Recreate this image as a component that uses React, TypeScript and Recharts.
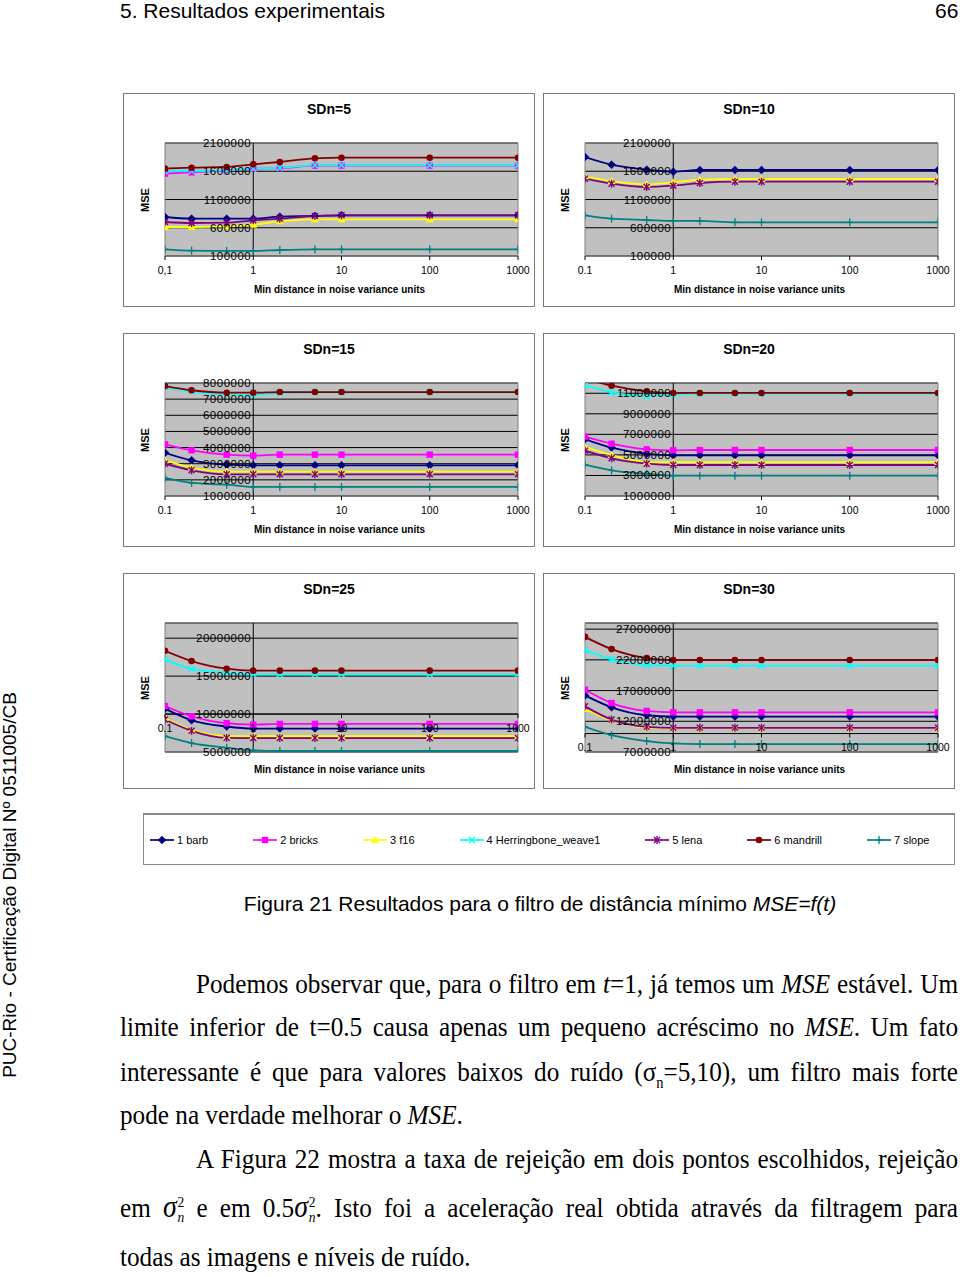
import React from 'react';
import { LineChart, Line, XAxis, YAxis, CartesianGrid, ReferenceLine, ReferenceArea } from 'recharts';

// x values (min distance in noise variance units)
const T = [0.1, 0.2, 0.5, 1, 2, 5, 10, 100, 1000];
const X_TICKS = [0.1, 1, 10, 100, 1000];

const SERIES_NAMES = ['1 barb', '2 bricks', '3 f16', '4 Herringbone_weave1', '5 lena', '6 mandrill', '7 slope'];
const SERIES_COLORS = ['#000080', '#FF00FF', '#FFFF00', '#00FFFF', '#800080', '#800000', '#008080'];
const SERIES_MARKERS = ['diamond', 'square', 'triangle', 'x', 'star', 'circle', 'plus'];

const N = null;
const HIDDEN = [N, N, N, N, N, N, N, N, N];

// Each panel: rows = barb, bricks, f16, Herringbone_weave1, lena, mandrill, slope
const sd5 = [
  [790000, 761000, 761000, 761000, 796000, 808000, 820000, 820000, 820000],
  [1557000, 1580000, 1616000, 1645000, 1655000, 1698000, 1700000, 1700000, 1700000],
  [613000, 613000, 625000, 655000, 713000, 749000, 749000, 749000, 749000],
  [1604000, 1604000, 1616000, 1650000, 1660000, 1705000, 1705000, 1705000, 1705000],
  [702000, 684000, 690000, 731000, 761000, 808000, 820000, 820000, 820000],
  [1646000, 1663000, 1675000, 1722000, 1764000, 1829000, 1840000, 1840000, 1840000],
  [218000, 195000, 189000, 189000, 206000, 218000, 218000, 218000, 218000],
];
const sd10 = [
  [1852000, 1717000, 1628000, 1593000, 1622000, 1622000, 1622000, 1622000, 1622000],
  HIDDEN,
  [1510000, 1427000, 1368000, 1404000, 1451000, 1463000, 1463000, 1463000, 1463000],
  HIDDEN,
  [1469000, 1380000, 1321000, 1345000, 1392000, 1416000, 1416000, 1416000, 1416000],
  HIDDEN,
  [820000, 761000, 737000, 720000, 720000, 696000, 696000, 696000, 696000],
];
const sd15 = [
  [3680000, 3210000, 2940000, 2900000, 2900000, 2900000, 2900000, 2900000, 2900000],
  [4200000, 3830000, 3560000, 3500000, 3560000, 3560000, 3560000, 3560000, 3560000],
  [3210000, 2760000, 2510000, 2510000, 2510000, 2510000, 2510000, 2510000, 2510000],
  [7750000, 7480000, 7300000, 7280000, 7380000, 7420000, 7420000, 7420000, 7420000],
  [3000000, 2590000, 2340000, 2340000, 2340000, 2340000, 2340000, 2340000, 2340000],
  [7810000, 7550000, 7400000, 7400000, 7440000, 7440000, 7440000, 7440000, 7440000],
  [2120000, 1810000, 1700000, 1560000, 1560000, 1560000, 1560000, 1560000, 1560000],
];
const sd20 = [
  [6520000, 5710000, 5120000, 4960000, 4960000, 4960000, 4960000, 4960000, 4960000],
  [6780000, 6090000, 5540000, 5450000, 5480000, 5480000, 5480000, 5480000, 5480000],
  [5770000, 4990000, 4300000, 4300000, 4300000, 4300000, 4300000, 4300000, 4300000],
  [11770000, 11090000, 10730000, 10860000, 10960000, 10980000, 10980000, 10980000, 10980000],
  [5410000, 4670000, 4150000, 4020000, 4020000, 4020000, 4020000, 4020000, 4020000],
  [12400000, 11740000, 11190000, 11030000, 11030000, 11030000, 11030000, 11030000, 11030000],
  [4050000, 3500000, 3170000, 2980000, 2980000, 2980000, 2980000, 2980000, 2980000],
];
const sd25 = [
  [10710000, 9180000, 8360000, 8090000, 8090000, 8090000, 8090000, 8090000, 8090000],
  [11060000, 9710000, 8790000, 8620000, 8700000, 8700000, 8700000, 8700000, 8700000],
  [9490000, 7920000, 7090000, 7090000, 7090000, 7090000, 7090000, 7090000, 7090000],
  [17200000, 15940000, 15460000, 15240000, 15240000, 15240000, 15240000, 15240000, 15240000],
  [9270000, 7790000, 6870000, 6830000, 6830000, 6830000, 6830000, 6830000, 6830000],
  [18340000, 16990000, 15980000, 15720000, 15720000, 15720000, 15720000, 15720000, 15720000],
  [7090000, 6180000, 5570000, 5220000, 5130000, 5130000, 5130000, 5130000, 5130000],
];
const sd30 = [
  [16210000, 14270000, 12980000, 12760000, 12760000, 12760000, 12760000, 12760000, 12760000],
  [17120000, 14970000, 13680000, 13460000, 13460000, 13460000, 13460000, 13460000, 13460000],
  [14000000, 12170000, 10980000, 10880000, 10880000, 10880000, 10880000, 10880000, 10880000],
  [23580000, 22080000, 21160000, 21050000, 21050000, 21050000, 21050000, 21050000, 21050000],
  [14430000, 12280000, 11090000, 10930000, 10930000, 10930000, 10930000, 10930000, 10930000],
  [25740000, 23750000, 22290000, 21970000, 21970000, 21970000, 21970000, 21970000, 21970000],
  [11090000, 9740000, 8780000, 8400000, 8290000, 8290000, 8290000, 8290000, 8290000],
];

const PANEL_TITLES = ['SDn=5', 'SDn=10', 'SDn=15', 'SDn=20', 'SDn=25', 'SDn=30'];
const PANEL_DATA = [sd5, sd10, sd15, sd20, sd25, sd30];
const Y_DOMAINS = [[100000, 2100000], [100000, 2100000], [1000000, 8000000], [1000000, 12000000], [5000000, 22000000], [7000000, 28000000]];
const Y_TICKS = [
  [100000, 600000, 1100000, 1600000, 2100000],
  [100000, 600000, 1100000, 1600000, 2100000],
  [1000000, 2000000, 3000000, 4000000, 5000000, 6000000, 7000000, 8000000],
  [1000000, 3000000, 5000000, 7000000, 9000000, 11000000],
  [5000000, 10000000, 15000000, 20000000],
  [7000000, 12000000, 17000000, 22000000, 27000000],
];
const X_CROSS = [100000, 100000, 1000000, 1000000, 10000000, 10000000];
const DECIMAL_SEP = [',', '.', '.', '.', '.', '.'];

const SANS = '"Liberation Sans", Arial, sans-serif';
const SERIF = '"Liberation Serif", "Times New Roman", serif';

function marker(kind: string, color: string, cx: number, cy: number, key?: any) {
  switch (kind) {
    case 'diamond':
      return <polygon key={key} points={`${cx},${cy - 4} ${cx + 4},${cy} ${cx},${cy + 4} ${cx - 4},${cy}`} fill={color} stroke={color} strokeWidth={0.5} />;
    case 'square':
      return <rect key={key} x={cx - 3.2} y={cy - 3.2} width={6.4} height={6.4} fill={color} />;
    case 'triangle':
      return <polygon key={key} points={`${cx},${cy - 4} ${cx + 4},${cy + 3} ${cx - 4},${cy + 3}`} fill={color} />;
    case 'x':
      return (
        <g key={key} stroke={color} strokeWidth={1.5}>
          <line x1={cx - 3} y1={cy - 3} x2={cx + 3} y2={cy + 3} />
          <line x1={cx - 3} y1={cy + 3} x2={cx + 3} y2={cy - 3} />
        </g>
      );
    case 'star':
      return (
        <g key={key} stroke={color} strokeWidth={1.4}>
          <line x1={cx - 3} y1={cy - 3} x2={cx + 3} y2={cy + 3} />
          <line x1={cx - 3} y1={cy + 3} x2={cx + 3} y2={cy - 3} />
          <line x1={cx} y1={cy - 4} x2={cx} y2={cy + 4} />
        </g>
      );
    case 'circle':
      return <circle key={key} cx={cx} cy={cy} r={3.3} fill={color} />;
    case 'plus':
    default:
      return (
        <g key={key} stroke={color} strokeWidth={1.3}>
          <line x1={cx} y1={cy - 4} x2={cx} y2={cy + 4} />
          <line x1={cx - 3} y1={cy} x2={cx + 3} y2={cy} />
        </g>
      );
  }
}

function makeDot(kind: string, color: string) {
  return (p: any) => {
    const key = `dot-${p.index}`;
    if (p.value == null || !Number.isFinite(p.cx) || !Number.isFinite(p.cy)) return <g key={key} />;
    return marker(kind, color, p.cx, p.cy, key);
  };
}

const PANEL_W = 412;
const PL = 42;
const PT = 50;
const PW = 353;

function Panel({ idx, left, top, height, plotH }: { idx: number; left: number; top: number; height: number; plotH: number }) {
  const series = PANEL_DATA[idx];
  const rows = T.map((t, i) => {
    const r: any = { t };
    series.forEach((s, k) => {
      r['s' + k] = s[i];
    });
    return r;
  });
  const [ymin, ymax] = Y_DOMAINS[idx];
  const cross = X_CROSS[idx];
  const crossOffset = (plotH * (cross - ymin)) / (ymax - ymin);
  const lx = Math.log10(0.1);
  const yLabelX = PL + (PW * (Math.log10(1) - lx)) / (Math.log10(1000) - lx) - 2;
  const sep = DECIMAL_SEP[idx];
  const fmtX = (v: number) => (v < 1 ? String(v).replace('.', sep) : String(v));

  const XTick = (p: any) => {
    const yy = p.y - crossOffset;
    return (
      <g>
        <line x1={p.x} x2={p.x} y1={yy} y2={yy + 4} stroke="#000" strokeWidth={1} />
        <text x={p.x} y={yy + 17.5} textAnchor="middle" fontSize={10.5} fontFamily={SANS} fill="#000">
          {fmtX(p.payload.value)}
        </text>
      </g>
    );
  };
  const YTick = (p: any) => (
    <text x={yLabelX} y={p.y + 4} textAnchor="end" fontSize={11.5} letterSpacing={0.5} fontFamily={SANS} fill="#000">
      {p.payload.value}
    </text>
  );

  const xAxisH = height - PT - plotH;

  return (
    <div
      style={{
        position: 'absolute',
        left,
        top,
        width: PANEL_W,
        height,
        boxSizing: 'border-box',
        border: '1px solid #7a7a7a',
        background: '#fff',
      }}
    >
      <div style={{ position: 'absolute', left: -1, top: -1 }}>
        <LineChart width={PANEL_W} height={height} data={rows} margin={{ top: PT, right: PANEL_W - PL - PW, left: 0, bottom: 0 }}>
          <CartesianGrid vertical={false} stroke="#000" strokeWidth={1} fill="#c0c0c0" fillOpacity={1} />
          <ReferenceArea x1={0.1} x2={1000} y1={ymin} y2={ymax} fill="none" stroke="#808080" strokeWidth={1} ifOverflow="visible" />
          <ReferenceLine x={1} stroke="#000" strokeWidth={1} />
          {cross > ymin ? <ReferenceLine y={cross} stroke="#000" strokeWidth={1} /> : null}
          <XAxis
            dataKey="t"
            type="number"
            scale="log"
            domain={[0.1, 1000]}
            ticks={X_TICKS}
            allowDataOverflow
            interval={0}
            axisLine={false}
            tickLine={false}
            tickSize={0}
            tickMargin={0}
            height={xAxisH}
            tick={XTick}
          />
          <YAxis
            type="number"
            domain={[ymin, ymax]}
            ticks={Y_TICKS[idx]}
            allowDataOverflow
            interval={0}
            axisLine={false}
            tickLine={false}
            width={PL}
            tick={YTick}
          />
          {SERIES_NAMES.map((name, k) => (
            <Line
              key={name}
              dataKey={'s' + k}
              name={name}
              type="monotone"
              stroke={SERIES_COLORS[k]}
              strokeWidth={1.8}
              dot={makeDot(SERIES_MARKERS[k], SERIES_COLORS[k])}
              activeDot={false}
              isAnimationActive={false}
              connectNulls={false}
            />
          ))}
        </LineChart>
      </div>
      <div
        style={{
          position: 'absolute',
          left: 0,
          width: PANEL_W - 2,
          top: 7,
          textAlign: 'center',
          fontFamily: SANS,
          fontWeight: 'bold',
          fontSize: 14,
          lineHeight: '16px',
        }}
      >
        {PANEL_TITLES[idx]}
      </div>
      <div
        style={{
          position: 'absolute',
          left: 21,
          top: PT + plotH / 2 - 1,
          transform: 'translate(-50%,-50%) rotate(-90deg)',
          fontFamily: SANS,
          fontWeight: 'bold',
          fontSize: 11,
          lineHeight: '12px',
          whiteSpace: 'nowrap',
        }}
      >
        MSE
      </div>
      <div
        style={{
          position: 'absolute',
          left: PL + PW / 2 - 3,
          top: 196,
          transform: 'translate(-50%,-50%)',
          fontFamily: SANS,
          fontWeight: 'bold',
          fontSize: 10,
          lineHeight: '12px',
          whiteSpace: 'nowrap',
        }}
      >
        Min distance in noise variance units
      </div>
    </div>
  );
}

function LegendBox() {
  return (
    <div
      style={{
        position: 'absolute',
        left: 143,
        top: 813,
        width: 812,
        height: 52,
        boxSizing: 'border-box',
        border: '1px solid #8a8a8a',
        borderTop: '2px solid #8a8a8a',
        display: 'flex',
        alignItems: 'center',
        paddingLeft: 6,
        gap: 45,
        fontFamily: SANS,
        fontSize: 11,
      }}
    >
      {SERIES_NAMES.map((name, k) => (
        <div key={name} style={{ display: 'flex', alignItems: 'center', whiteSpace: 'nowrap' }}>
          <svg width={24} height={10} style={{ marginRight: 3 }}>
            <line x1={0} y1={5} x2={24} y2={5} stroke={SERIES_COLORS[k]} strokeWidth={1.7} />
            {marker(SERIES_MARKERS[k], SERIES_COLORS[k], 12, 5)}
          </svg>
          <span>{name}</span>
        </div>
      ))}
    </div>
  );
}

const BODY_FS = 28;
const BODY_SX = 0.9;
const RIGHT = 958;

function TextLine({ left, yc, justify, children }: { left: number; yc: number; justify?: boolean; children: any }) {
  const w = (RIGHT - left) / BODY_SX;
  return (
    <div
      style={{
        position: 'absolute',
        left,
        top: yc - 20,
        width: w,
        transform: `scaleX(${BODY_SX})`,
        transformOrigin: '0 0',
        fontFamily: SERIF,
        fontSize: BODY_FS,
        lineHeight: '34px',
        textAlign: justify ? 'justify' : 'left',
        textAlignLast: justify ? 'justify' : 'left',
        color: '#000',
      } as any}
    >
      {children}
    </div>
  );
}

function SigmaSq() {
  return (
    <span style={{ whiteSpace: 'nowrap' }}>
      <span style={{ fontStyle: 'italic', fontSize: 31 }}>σ</span>
      <span style={{ display: 'inline-block', verticalAlign: '-0.35em', lineHeight: '15px', fontSize: 15, marginLeft: 1 }}>
        <span style={{ display: 'block' }}>2</span>
        <span style={{ display: 'block', fontStyle: 'italic' }}>n</span>
      </span>
    </span>
  );
}

export default function App() {
  return (
    <div style={{ position: 'absolute', left: 0, top: 0, width: 960, height: 1277, background: '#fff', overflow: 'hidden' }}>
      <div style={{ position: 'absolute', left: 120, top: 0, fontFamily: SANS, fontSize: 21, lineHeight: '22px' }}>
        5. Resultados experimentais
      </div>
      <div style={{ position: 'absolute', left: 935, top: 0, fontFamily: SANS, fontSize: 21, lineHeight: '22px' }}>66</div>

      <div
        style={{
          position: 'absolute',
          left: 10,
          top: 885,
          transform: 'translate(-50%,-50%) rotate(-90deg)',
          fontFamily: SANS,
          fontSize: 19,
          lineHeight: '22px',
          whiteSpace: 'nowrap',
        }}
      >
        PUC-Rio - Certificação Digital Nº 0511005/CB
      </div>

      <Panel idx={0} left={123} top={93} height={214} plotH={113} />
      <Panel idx={1} left={543} top={93} height={214} plotH={113} />
      <Panel idx={2} left={123} top={333} height={214} plotH={113} />
      <Panel idx={3} left={543} top={333} height={214} plotH={113} />
      <Panel idx={4} left={123} top={573} height={216} plotH={129} />
      <Panel idx={5} left={543} top={573} height={216} plotH={129} />

      <LegendBox />

      <div
        style={{
          position: 'absolute',
          left: 120,
          width: 840,
          top: 892,
          textAlign: 'center',
          fontFamily: SANS,
          fontSize: 21,
          lineHeight: '24px',
        }}
      >
        Figura 21 Resultados para o filtro de distância mínimo <i>MSE=f(t)</i>
      </div>

      <TextLine left={196} yc={987} justify>
        Podemos observar que, para o filtro em <i>t</i>=1, já temos um <i>MSE</i> estável. Um
      </TextLine>
      <TextLine left={120} yc={1030} justify>
        limite inferior de t=0.5 causa apenas um pequeno acréscimo no <i>MSE</i>. Um fato
      </TextLine>
      <TextLine left={120} yc={1075} justify>
        interessante é que para valores baixos do ruído (σ<sub style={{ fontSize: 16 }}>n</sub>=5,10), um filtro mais forte
      </TextLine>
      <TextLine left={120} yc={1118}>
        pode na verdade melhorar o <i>MSE</i>.
      </TextLine>
      <TextLine left={196} yc={1162} justify>
        A Figura 22 mostra a taxa de rejeição em dois pontos escolhidos, rejeição
      </TextLine>
      <TextLine left={120} yc={1210} justify>
        em <SigmaSq /> e em 0.5<SigmaSq />. Isto foi a aceleração real obtida através da filtragem para
      </TextLine>
      <TextLine left={120} yc={1260}>
        todas as imagens e níveis de ruído.
      </TextLine>
    </div>
  );
}
